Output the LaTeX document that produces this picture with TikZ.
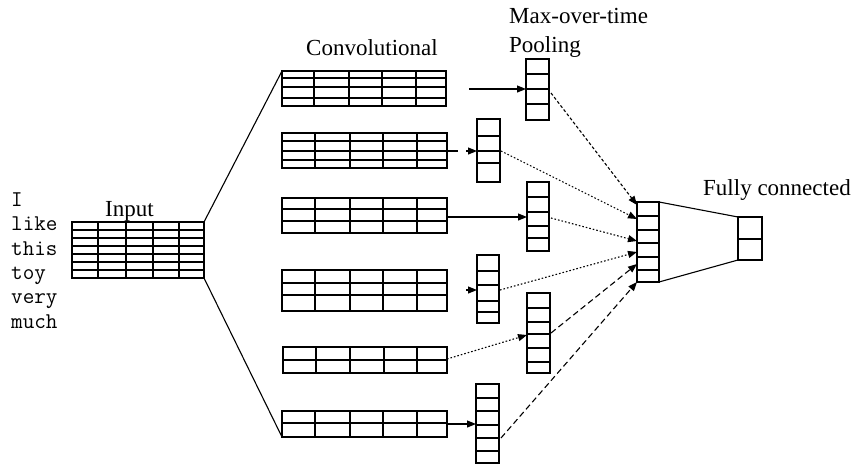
\documentclass[tikz,border=0pt]{standalone}
\usepackage{fontspec}
\setmainfont{Liberation Serif}
\usetikzlibrary{arrows.meta,calc}
\tikzset{
 gridbox/.style={draw, line width=1.3pt, inner sep=0pt, outer sep=0pt, anchor=north west},
 gl/.style={line width=1.3pt},
 link/.style={line width=1.1pt},
 arr/.style={line width=1.1pt, -{Triangle[length=9pt,width=7pt]}},
 dotl/.style={dash pattern=on 1.6pt off 2pt},
 dashl/.style={dash pattern=on 6pt off 3.5pt},
 sdash/.style={dash pattern=on 3pt off 2.2pt},
 lbl/.style={font=\fontsize{23}{26}\selectfont, anchor=base west, inner sep=0pt},
 word/.style={font=\ttfamily\fontsize{22.5}{25}\selectfont, anchor=base west, inner sep=0pt},
}
\newcommand{\mkgrid}[7]{%
 \node[gridbox, minimum width=#4pt-#2pt, minimum height=#5pt-#3pt] (#1) at (#2,#3) {};
 \foreach \xx in {#6} {\draw[gl] (\xx,#3) -- (\xx,#5);}
 \foreach \yy in {#7} {\draw[gl] (#2,\yy) -- (#4,\yy);}
}
\newcommand{\mkvec}[6]{%
 \node[gridbox, minimum width=#4pt-#2pt, minimum height=#5pt-#3pt] (#1) at (#2,#3) {};
 \foreach \yy in {#6} {\draw[gl] (#2,\yy) -- (#4,\yy);}
}
\begin{document}
\begin{tikzpicture}[x=1pt,y=-1pt]
\useasboundingbox (0,0) rectangle (854,466);

% words
\node[word] (w1) at (11,206) {I};
\node[word] (w2) at (11,230) {like};
\node[word] (w3) at (11,255) {this};
\node[word] (w4) at (11,279) {toy};
\node[word] (w5) at (11,303) {very};
\node[word] (w6) at (11,328) {much};

% labels
\node[lbl] (linput) at (105,216) {Input};
\node[lbl] (lconv) at (306,55) {Convolutional};
\node[lbl] (lmax) at (509,23) {Max-over-time};
\node[lbl] (lpool) at (509,52) {Pooling};
\node[lbl] (lfc) at (703,195) {Fully connected};

% input matrix
\mkgrid{inp}{72}{222}{204}{278}{98,126,153,179}{230,238,246,254,262,270}

% convolutional maps
\mkgrid{c1}{282}{71}{446}{106}{314,349,382,416}{78,87,98}
\mkgrid{c2}{282}{133}{447}{168}{315,350,383,417}{141,151,160}
\mkgrid{c3}{282}{198}{447}{233}{315,350,383,417}{209,221}
\mkgrid{c4}{282}{270}{447}{311}{315,350,383,417}{283,295}
\mkgrid{c5}{283}{347}{447}{373}{316,350,384,417}{360}
\mkgrid{c6}{282}{411}{447}{437}{315,350,383,417}{423}

% pooled vectors
\mkvec{p1}{526}{59}{549}{120}{74,89,104}
\mkvec{p2}{477}{119}{500}{182}{136,151,163}
\mkvec{p3}{527}{182}{549}{251}{197,212,226,238}
\mkvec{p4}{477}{255}{499}{323}{271,285,301,312}
\mkvec{p5}{527}{293}{550}{373}{308,322,334,348,362}
\mkvec{p6}{476}{384}{499}{463}{398,411,425,438,451}

% fully connected
\mkvec{f1}{637}{202}{659}{282}{216,230,243,257,270}
\mkvec{f2}{738}{217}{762}{260}{239}

% input to conv
\draw[link] (inp.north east) -- (c1.north west);
\draw[link] (inp.south east) -- (c6.south west);

% conv to pool
\coordinate (a1s) at (469,89);
\coordinate (a1e) at (526,89);
\draw[arr] (a1s) -- (a1e);
\coordinate (a2s) at (447,151);
\coordinate (a2m) at (458,151);
\coordinate (a2h) at (466,151);
\coordinate (a2e) at (477,151);
\draw[link] (a2s) -- (a2m);
\draw[arr] (a2h) -- (a2e);
\coordinate (a3s) at (447,217);
\coordinate (a3e) at (527,217);
\draw[arr] (a3s) -- (a3e);
\coordinate (a4h) at (466,290);
\coordinate (a4e) at (477,290);
\draw[arr] (a4h) -- (a4e);
\coordinate (a5s) at (447,359);
\coordinate (a5e) at (527,335);
\draw[arr,dotl] (a5s) -- (a5e);
\coordinate (a6s) at (447,424);
\coordinate (a6e) at (476,424);
\draw[arr] (a6s) -- (a6e);

% pool to fc
\coordinate (b1s) at (551,93);
\coordinate (b2s) at (501,151);
\coordinate (b3s) at (551,218);
\coordinate (b4s) at (500,290);
\coordinate (b5s) at (551,333);
\coordinate (b6s) at (501,438);
\coordinate (b1e) at (637,205);
\coordinate (b2e) at (637,219);
\coordinate (b3e) at (637,241);
\coordinate (b4e) at (637,252);
\coordinate (b5e) at (637,264);
\coordinate (b6e) at (637,282);
\draw[arr,sdash] (b1s) -- (b1e);
\draw[arr,dotl] (b2s) -- (b2e);
\draw[arr,dotl] (b3s) -- (b3e);
\draw[arr,dotl] (b4s) -- (b4e);
\draw[arr,dashl] (b5s) -- (b5e);
\draw[arr,dashl] (b6s) -- (b6e);

% fc lines
\draw[link] (f1.north east) -- (f2.north west);
\draw[link] (f1.south east) -- (f2.south west);
\end{tikzpicture}
\end{document}
